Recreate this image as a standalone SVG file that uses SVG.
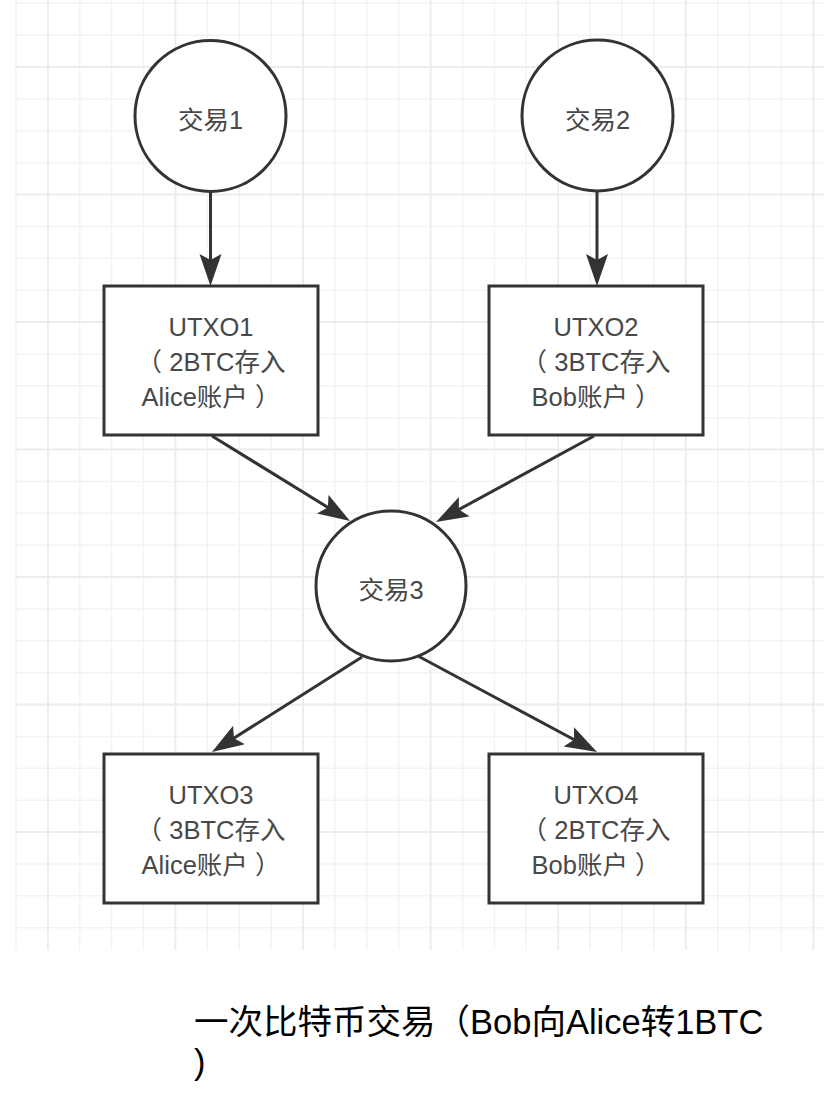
<svg xmlns="http://www.w3.org/2000/svg" width="824" height="1098" viewBox="0 0 824 1098">
  <defs>
    <style>
      .grid { stroke: #f3f3f3; stroke-width: 1.5; }
      .gridm { stroke: #ececec; stroke-width: 1.8; }
      .shape { fill: #ffffff; stroke: #333333; stroke-width: 3; }
      .edge { stroke: #333333; stroke-width: 3; fill: none; marker-end: url(#arrow); }
      .lbl { font-family: "Liberation Sans", "Noto Sans CJK SC", sans-serif; font-size: 25.5px; fill: #484848; text-anchor: middle; }
      .cap { font-family: "Liberation Sans", "Noto Sans CJK SC", sans-serif; font-size: 34.5px; fill: #000000; }
    </style>
    <marker id="arrow" markerUnits="userSpaceOnUse" markerWidth="34" markerHeight="24" refX="22" refY="11" orient="auto" viewBox="0 0 34 24">
      <path d="M0,0 L32,11 L0,22 L6,11 z" fill="#333333"/>
    </marker>
  </defs>
  <rect x="0" y="0" width="824" height="1098" fill="#ffffff"/>
  <g id="grid">
    <g class="grid">
      <path d="M16,0V950 M79.7,0V950 M111.6,0V950 M143.5,0V950 M207.3,0V950 M239.2,0V950 M271.1,0V950 M334.9,0V950 M366.8,0V950 M398.7,0V950 M462.5,0V950 M494.4,0V950 M526.3,0V950 M590.1,0V950 M622,0V950 M653.9,0V950 M717.7,0V950 M749.6,0V950 M781.5,0V950"/>
      <path d="M15,3.3H824 M15,35.2H824 M15,98.9H824 M15,130.8H824 M15,162.7H824 M15,226.4H824 M15,258.3H824 M15,290.2H824 M15,353.9H824 M15,385.8H824 M15,417.7H824 M15,481.4H824 M15,513.3H824 M15,545.2H824 M15,608.9H824 M15,640.8H824 M15,672.7H824 M15,736.4H824 M15,768.3H824 M15,800.2H824 M15,863.9H824 M15,895.8H824 M15,927.7H824"/>
    </g>
    <g class="gridm">
      <path d="M47.9,0V950 M175.4,0V950 M303,0V950 M430.6,0V950 M558.2,0V950 M685.8,0V950 M813.4,0V950"/>
      <path d="M15,67H824 M15,194.5H824 M15,322H824 M15,449.5H824 M15,577H824 M15,704.5H824 M15,832H824"/>
    </g>
  </g>
  <g id="connectors">
    <line class="edge" x1="210.5" y1="192" x2="210.5" y2="276"/>
    <line class="edge" x1="597" y1="191" x2="597" y2="276"/>
    <line class="edge" x1="212" y1="436" x2="341.5" y2="515.8"/>
    <line class="edge" x1="594" y1="436" x2="444.8" y2="517.2"/>
    <line class="edge" x1="362" y1="657" x2="220.4" y2="746.7"/>
    <line class="edge" x1="418" y1="656" x2="588.2" y2="747.3"/>
  </g>
  <g id="tx1">
    <circle class="shape" cx="210.5" cy="116" r="75.5"/>
    <text class="lbl" x="210.5" y="129">交易1</text>
  </g>
  <g id="tx2">
    <circle class="shape" cx="597.5" cy="115.5" r="75.5"/>
    <text class="lbl" x="597.5" y="129">交易2</text>
  </g>
  <g id="utxo1">
    <rect class="shape" x="104" y="286" width="214" height="149"/>
    <text class="lbl" x="211" y="336">UTXO1</text>
    <text class="lbl" x="211" y="371">（ 2BTC存入</text>
    <text class="lbl" x="211" y="406">Alice账户 ）</text>
  </g>
  <g id="utxo2">
    <rect class="shape" x="489" y="286" width="214" height="149"/>
    <text class="lbl" x="596" y="336">UTXO2</text>
    <text class="lbl" x="596" y="371">（ 3BTC存入</text>
    <text class="lbl" x="596" y="406">Bob账户 ）</text>
  </g>
  <g id="tx3">
    <circle class="shape" cx="391" cy="586" r="75"/>
    <text class="lbl" x="391" y="599">交易3</text>
  </g>
  <g id="utxo3">
    <rect class="shape" x="104" y="754" width="214" height="149"/>
    <text class="lbl" x="211" y="804">UTXO3</text>
    <text class="lbl" x="211" y="839">（ 3BTC存入</text>
    <text class="lbl" x="211" y="874">Alice账户 ）</text>
  </g>
  <g id="utxo4">
    <rect class="shape" x="489" y="754" width="214" height="149"/>
    <text class="lbl" x="596" y="804">UTXO4</text>
    <text class="lbl" x="596" y="839">（ 2BTC存入</text>
    <text class="lbl" x="596" y="874">Bob账户 ）</text>
  </g>
  <g id="caption">
    <text class="cap" x="194" y="1034">一次比特币交易（Bob向Alice转1BTC</text>
    <text class="cap" x="194" y="1074">)</text>
  </g>
</svg>
